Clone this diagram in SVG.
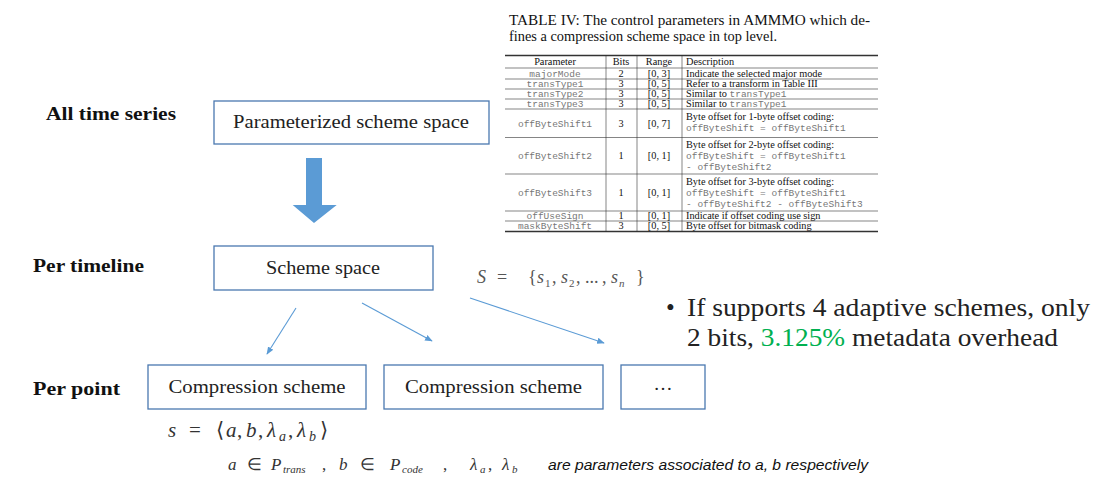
<svg xmlns="http://www.w3.org/2000/svg" width="1098" height="491" viewBox="0 0 1098 491">
<style>
.lbl{font-family:"Liberation Serif",serif;font-size:19px;font-weight:bold;fill:#111}
.box{fill:#fff;stroke:#4A78B0;stroke-width:1.3}
.bt{font-family:"Liberation Serif",serif;font-size:19px;fill:#222;text-anchor:middle}
.conn{stroke:#5B9BD5;stroke-width:1.1;fill:none}
.tt{font-family:"Liberation Serif",serif;font-size:10.3px;fill:#111}
.tc{text-anchor:middle}
.tm{font-family:"Liberation Mono",monospace;font-size:9.5px;fill:#777}
.rule{stroke:#333;stroke-width:0.6}
.thick{stroke:#333;stroke-width:1.3}
.math{font-family:"Liberation Serif",serif;fill:#333}
.it{font-style:italic}
.big{font-family:"Liberation Serif",serif;font-size:25px;fill:#222}
</style>
<defs>
<marker id="ah" viewBox="0 0 10 10" refX="9" refY="5" markerWidth="7" markerHeight="7" orient="auto"><path d="M0,1 L10,5 L0,9 z" fill="#5B9BD5"/></marker>
</defs>
<rect width="1098" height="491" fill="#fff"/>

<!-- Table IV -->
<g id="table">
<text class="tt" x="509" y="25" style="font-size:14px" textLength="361" lengthAdjust="spacingAndGlyphs">TABLE IV: The control parameters in AMMMO which de-</text>
<text class="tt" x="509" y="41" style="font-size:14px" textLength="268" lengthAdjust="spacingAndGlyphs">fines a compression scheme space in top level.</text>
<line class="thick" x1="505" y1="55.5" x2="878" y2="55.5"/>
<line class="rule" x1="505" y1="68" x2="878" y2="68"/>
<line class="rule" x1="505" y1="79" x2="878" y2="79"/>
<line class="rule" x1="505" y1="89" x2="878" y2="89"/>
<line class="rule" x1="505" y1="99" x2="878" y2="99"/>
<line class="rule" x1="505" y1="109" x2="878" y2="109"/>
<line class="rule" x1="505" y1="137.5" x2="878" y2="137.5"/>
<line class="rule" x1="505" y1="174" x2="878" y2="174"/>
<line class="rule" x1="505" y1="211" x2="878" y2="211"/>
<line class="rule" x1="505" y1="221" x2="878" y2="221"/>
<line class="thick" x1="505" y1="231.5" x2="878" y2="231.5"/>
<line class="rule" x1="606" y1="55.5" x2="606" y2="231.5"/>
<line class="rule" x1="637" y1="55.5" x2="637" y2="231.5"/>
<line class="rule" x1="682" y1="55.5" x2="682" y2="231.5"/>
<text class="tt tc" x="555" y="65">Parameter</text>
<text class="tt tc" x="621" y="65">Bits</text>
<text class="tt tc" x="659" y="65">Range</text>
<text class="tt" x="686" y="65">Description</text>

<text class="tm tc" x="555" y="76.5">majorMode</text>
<text class="tt tc" x="621" y="76.5">2</text>
<text class="tt tc" x="659" y="76.5">[0, 3]</text>
<text class="tt" x="686" y="76.5">Indicate the selected major mode</text>

<text class="tm tc" x="555" y="86.5">transType1</text>
<text class="tt tc" x="621" y="86.5">3</text>
<text class="tt tc" x="659" y="86.5">[0, 5]</text>
<text class="tt" x="686" y="86.5">Refer to a transform in Table III</text>

<text class="tm tc" x="555" y="96.5">transType2</text>
<text class="tt tc" x="621" y="96.5">3</text>
<text class="tt tc" x="659" y="96.5">[0, 5]</text>
<text class="tt" x="686" y="96.5">Similar to <tspan class="tm">transType1</tspan></text>

<text class="tm tc" x="555" y="106.5">transType3</text>
<text class="tt tc" x="621" y="106.5">3</text>
<text class="tt tc" x="659" y="106.5">[0, 5]</text>
<text class="tt" x="686" y="106.5">Similar to <tspan class="tm">transType1</tspan></text>

<text class="tm tc" x="555" y="126.5">offByteShift1</text>
<text class="tt tc" x="621" y="126.5">3</text>
<text class="tt tc" x="659" y="126.5">[0, 7]</text>
<text class="tt" x="686" y="120">Byte offset for 1-byte offset coding:</text>
<text class="tm" x="686" y="131">offByteShift = offByteShift1</text>

<text class="tm tc" x="555" y="159">offByteShift2</text>
<text class="tt tc" x="621" y="159">1</text>
<text class="tt tc" x="659" y="159">[0, 1]</text>
<text class="tt" x="686" y="147.5">Byte offset for 2-byte offset coding:</text>
<text class="tm" x="686" y="158.5">offByteShift = offByteShift1</text>
<text class="tm" x="686" y="169.5">- offByteShift2</text>

<text class="tm tc" x="555" y="196">offByteShift3</text>
<text class="tt tc" x="621" y="196">1</text>
<text class="tt tc" x="659" y="196">[0, 1]</text>
<text class="tt" x="686" y="184.5">Byte offset for 3-byte offset coding:</text>
<text class="tm" x="686" y="195.5">offByteShift = offByteShift1</text>
<text class="tm" x="686" y="206.5">- offByteShift2 - offByteShift3</text>

<text class="tm tc" x="555" y="218.5">offUseSign</text>
<text class="tt tc" x="621" y="218.5">1</text>
<text class="tt tc" x="659" y="218.5">[0, 1]</text>
<text class="tt" x="686" y="218.5">Indicate if offset coding use sign</text>

<text class="tm tc" x="555" y="229">maskByteShift</text>
<text class="tt tc" x="621" y="229">3</text>
<text class="tt tc" x="659" y="229">[0, 5]</text>
<text class="tt" x="686" y="229">Byte offset for bitmask coding</text>
</g>

<!-- Level labels -->
<g id="labels">
<text class="lbl" x="46" y="120" textLength="130" lengthAdjust="spacingAndGlyphs">All time series</text>
<text class="lbl" x="33" y="272" textLength="111" lengthAdjust="spacingAndGlyphs">Per timeline</text>
<text class="lbl" x="33" y="395" textLength="87" lengthAdjust="spacingAndGlyphs">Per point</text>
</g>

<!-- Nodes -->
<g id="node-param-space">
<rect class="box" x="214" y="101" width="275" height="43"/>
<text class="bt" x="351" y="128" textLength="236" lengthAdjust="spacingAndGlyphs">Parameterized scheme space</text>
</g>
<g id="node-scheme-space">
<rect class="box" x="214" y="246" width="219" height="44"/>
<text class="bt" x="323" y="274" textLength="114" lengthAdjust="spacingAndGlyphs">Scheme space</text>
</g>
<g id="node-comp1">
<rect class="box" x="148" y="365" width="218" height="44"/>
<text class="bt" x="257" y="393" textLength="177" lengthAdjust="spacingAndGlyphs">Compression scheme</text>
</g>
<g id="node-comp2">
<rect class="box" x="384" y="365" width="219" height="44"/>
<text class="bt" x="493.5" y="393" textLength="177" lengthAdjust="spacingAndGlyphs">Compression scheme</text>
</g>
<g id="node-more">
<rect class="box" x="621" y="365" width="84" height="44"/>
<text class="bt" x="663" y="390">…</text>
</g>

<!-- Connectors -->
<g id="connectors">
<path d="M306,158 H322 V205 H336.7 L314,223 L292.7,205 H306 Z" fill="#5B9BD5"/>
<line class="conn" x1="296" y1="308" x2="267" y2="354" marker-end="url(#ah)"/>
<line class="conn" x1="362" y1="303" x2="432" y2="341" marker-end="url(#ah)"/>
<line class="conn" x1="470" y1="298" x2="604" y2="343" marker-end="url(#ah)"/>
</g>

<!-- Formulas and notes -->
<g id="annotations">
<g class="math" style="font-size:18px;fill:#555">
<text x="477" y="283" class="it">S</text>
<text x="497" y="283">=</text>
<text x="528" y="283">{</text>
<text x="537" y="283" class="it">s</text><text x="545" y="287" style="font-size:11px">1</text><text x="552" y="283">,</text>
<text x="561" y="283" class="it">s</text><text x="569" y="287" style="font-size:11px">2</text><text x="576" y="283">,</text>
<text x="585" y="283">...</text><text x="602" y="283">,</text>
<text x="611" y="283" class="it">s</text><text x="619" y="287" class="it" style="font-size:11px">n</text>
<text x="636" y="283">}</text>
</g>

<text class="big" x="666" y="316">•</text>
<text class="big" x="687" y="316" textLength="403" lengthAdjust="spacingAndGlyphs">If supports 4 adaptive schemes, only</text>
<text class="big" x="687" y="346" textLength="371" lengthAdjust="spacingAndGlyphs">2 bits, <tspan fill="#00B050">3.125%</tspan> metadata overhead</text>

<g class="math" style="font-size:21px">
<text x="168" y="437" class="it">s</text>
<text x="189" y="437">=</text>
<text x="216" y="437">⟨</text>
<text x="226" y="437" class="it">a</text><text x="237" y="437">,</text>
<text x="246" y="437" class="it">b</text><text x="258" y="437">,</text>
<text x="267" y="437" class="it">λ</text><text x="279" y="441" class="it" style="font-size:14px">a</text><text x="288" y="437">,</text>
<text x="297" y="437" class="it">λ</text><text x="309" y="441" class="it" style="font-size:14px">b</text>
<text x="320" y="437">⟩</text>
</g>

<g class="math" style="font-size:17px">
<text x="228" y="470" class="it">a</text>
<text x="247" y="470">∈</text>
<text x="271" y="470" class="it">P</text><text x="283" y="473" class="it" style="font-size:11px">trans</text>
<text x="322" y="470">,</text>
<text x="339" y="470" class="it">b</text>
<text x="360" y="470">∈</text>
<text x="390" y="470" class="it">P</text><text x="402" y="473" class="it" style="font-size:11px">code</text>
<text x="443" y="470">,</text>
<text x="470" y="470" class="it">λ</text><text x="480" y="473" class="it" style="font-size:11px">a</text><text x="488" y="470">,</text>
<text x="502" y="470" class="it">λ</text><text x="512" y="473" class="it" style="font-size:11px">b</text>
</g>
<text x="548" y="470" style="font-family:'Liberation Sans',sans-serif;font-style:italic;font-size:15.5px;fill:#111" textLength="320" lengthAdjust="spacingAndGlyphs">are parameters associated to a, b respectively</text>
</g>
</svg>
